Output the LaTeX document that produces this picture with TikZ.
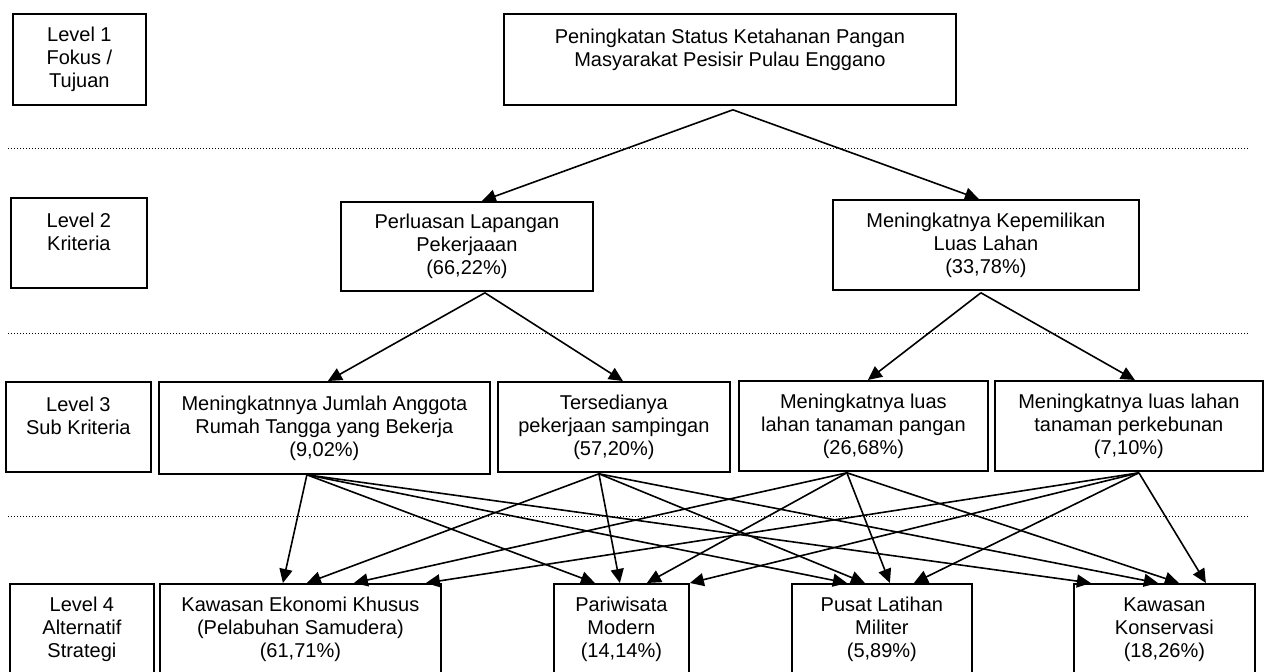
\documentclass[tikz,border=0pt]{standalone}
\usepackage{fontspec}
\setmainfont{Liberation Sans}
\usetikzlibrary{arrows.meta, calc}

\begin{document}
\begin{tikzpicture}[
    x=0.5pt, y=-0.5pt,
    box/.style={draw, line width=0.9pt, anchor=north west, align=center,
                inner sep=0pt, font=\fontsize{10}{11.5}\selectfont},
    arrow/.style={-{Triangle[length=7pt, width=6.5pt]}, line width=0.8pt},
    sep/.style={line width=0.5pt, dash pattern=on 0.5pt off 1pt}
]
\useasboundingbox (0,0) rectangle (1266,671);
% level column
\node[box, minimum width=66.5pt, minimum height=45.5pt] (lv1) at (12,13) {Level 1\\Fokus /\\Tujuan};
\node[box, minimum width=68pt, minimum height=45pt]     (lv2) at (10,197) {Level 2\\Kriteria\\~};
\node[box, minimum width=72.5pt, minimum height=45pt]   (lv3) at (5,381) {Level 3\\Sub Kriteria\\~};
\node[box, minimum width=72pt, minimum height=45.5pt]   (lv4) at (9,583) {Level 4\\Alternatif\\Strategi};
% goal and criteria
\node[box, minimum width=226pt, minimum height=45.5pt] (goal) at (503,13)
    {Peningkatan Status Ketahanan Pangan\\Masyarakat Pesisir Pulau Enggano\\~};
\node[box, minimum width=126pt, minimum height=44.5pt] (perl) at (340,201)
    {Perluasan Lapangan\\Pekerjaaan\\(66,22\%)};
\node[box, minimum width=153pt, minimum height=45pt]   (kepm) at (832,199)
    {Meningkatnya Kepemilikan\\Luas Lahan\\(33,78\%)};
% sub criteria
\node[box, minimum width=165.5pt, minimum height=46pt] (jml) at (158,381)
    {Meningkatnnya Jumlah Anggota\\Rumah Tangga yang Bekerja\\(9,02\%)};
\node[box, minimum width=116pt, minimum height=45pt]   (tsd) at (497,381)
    {Tersedianya\\pekerjaan sampingan\\(57,20\%)};
\node[box, minimum width=124.5pt, minimum height=45pt] (pgn) at (738,380)
    {Meningkatnya luas\\lahan tanaman pangan\\(26,68\%)};
\node[box, minimum width=134pt, minimum height=45pt]   (kbn) at (994,380)
    {Meningkatnya luas lahan\\tanaman perkebunan\\(7,10\%)};
% alternatives
\node[box, minimum width=140.5pt, minimum height=45.5pt] (kek) at (159,583)
    {Kawasan Ekonomi Khusus\\(Pelabuhan Samudera)\\(61,71\%)};
\node[box, minimum width=67.5pt, minimum height=45.5pt]  (wis) at (553,583)
    {Pariwisata\\Modern\\(14,14\%)};
\node[box, minimum width=90pt, minimum height=45.5pt]    (mil) at (791,583)
    {Pusat Latihan\\Militer\\(5,89\%)};
\node[box, minimum width=90.5pt, minimum height=45.5pt]  (kon) at (1073,583)
    {Kawasan\\Konservasi\\(18,26\%)};
% separators
\draw[sep] (8,148) -- (1250,148);
\draw[sep] (8,333) -- (1250,333);
\draw[sep] (8,516) -- (1250,516);
% arrow start points
\coordinate (goal-out) at ($(goal.south)+(3,4)$);
\coordinate (perl-out) at ($(perl.south)+(18,1)$);
\coordinate (kepm-out) at ($(kepm.south)+(-5,2)$);
\coordinate (jml-out)  at ($(jml.south)+(-17.5,0)$);
\coordinate (tsd-out)  at ($(tsd.south)+(-15,1)$);
\coordinate (pgn-out)  at ($(pgn.south)+(-16.5,1)$);
\coordinate (kbn-out)  at ($(kbn.south)+(10,1)$);
% level 1 -> 2 -> 3
\draw[arrow] (goal-out) -- ($(perl.north)+(15,0)$); \draw[arrow] (goal-out) -- ($(kepm.north)+(-7,0)$);
\draw[arrow] (perl-out) -- ($(jml.north)+(3.5,0)$); \draw[arrow] (perl-out) -- ($(tsd.north)+(9,0)$);
\draw[arrow] (kepm-out) -- ($(pgn.north)+(4.5,0)$); \draw[arrow] (kepm-out) -- ($(kbn.north)+(6,0)$);
% level 3 -> 4
\draw[arrow] (jml-out) -- ($(kek.north)+(-17.5,0)$); \draw[arrow] (jml-out) -- ($(wis.north)+(-26.5,0)$);
\draw[arrow] (jml-out) -- ($(mil.north)+(-35,0)$);   \draw[arrow] (jml-out) -- ($(kon.north)+(-73.5,0)$);
\draw[arrow] (tsd-out) -- ($(kek.north)+(6.5,0)$);   \draw[arrow] (tsd-out) -- ($(wis.north)+(-1.5,0)$);
\draw[arrow] (tsd-out) -- ($(mil.north)+(-17,0)$);   \draw[arrow] (tsd-out) -- ($(kon.north)+(-6.5,0)$);
\draw[arrow] (pgn-out) -- ($(kek.north)+(53.5,0)$);  \draw[arrow] (pgn-out) -- ($(wis.north)+(25.5,0)$);
\draw[arrow] (pgn-out) -- ($(mil.north)+(8,0)$);     \draw[arrow] (pgn-out) -- ($(kon.north)+(14.5,0)$);
\draw[arrow] (kbn-out) -- ($(kek.north)+(125.5,0)$); \draw[arrow] (kbn-out) -- ($(wis.north)+(68.5,0)$);
\draw[arrow] (kbn-out) -- ($(mil.north)+(32,0)$);    \draw[arrow] (kbn-out) -- ($(kon.north)+(41.5,0)$);
\end{tikzpicture}
\end{document}
